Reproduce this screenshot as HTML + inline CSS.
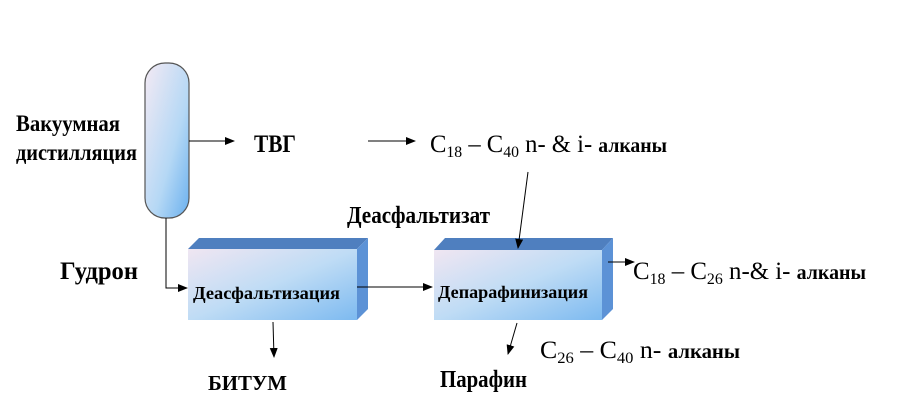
<!DOCTYPE html>
<html><head><meta charset="utf-8"><style>body{margin:0;background:#fff}svg{display:block}</style></head>
<body>
<svg width="900" height="400" xmlns="http://www.w3.org/2000/svg" font-family="Liberation Serif, serif">
<defs>
<linearGradient id="col" x1="0" y1="0" x2="1" y2="1"><stop offset="0" stop-color="#f4eaf4"/><stop offset="0.6" stop-color="#b5d8f5"/><stop offset="1" stop-color="#6ab0ee"/></linearGradient>
<linearGradient id="front" x1="0" y1="0" x2="1" y2="1"><stop offset="0" stop-color="#f0e6f2"/><stop offset="0.5" stop-color="#bfdcf5"/><stop offset="1" stop-color="#7dbaf0"/></linearGradient>
<marker id="a" markerWidth="10" markerHeight="8" refX="9" refY="4" orient="auto" markerUnits="userSpaceOnUse"><path d="M0,0 L10,4 L0,8 z" fill="#000"/></marker>
</defs>
<rect x="145" y="63" width="44" height="155" rx="20" fill="url(#col)" stroke="#555" stroke-width="1.2"/>
<polygon points="188,249 199,238 368,238 357,249" fill="#4f7fbf"/>
<polygon points="357,249 368,238 368,309 357,320" fill="#5c92d6"/>
<rect x="188" y="249" width="169" height="71" fill="url(#front)"/>
<polygon points="434,250 445,238 613,238 602,250" fill="#4f7fbf"/>
<polygon points="602,250 613,238 613,309 602,320" fill="#5c92d6"/>
<rect x="434" y="250" width="168" height="70" fill="url(#front)"/>
<g stroke="#000" stroke-width="1" fill="none">
<line x1="189" y1="141" x2="234" y2="141" marker-end="url(#a)"/>
<line x1="368" y1="141" x2="415" y2="141" marker-end="url(#a)"/>
<polyline points="166,218 166,288 187,288" marker-end="url(#a)"/>
<line x1="357" y1="287" x2="432" y2="287" marker-end="url(#a)"/>
<line x1="273" y1="322" x2="274" y2="357" marker-end="url(#a)"/>
<line x1="528" y1="172" x2="518" y2="248" marker-end="url(#a)"/>
<line x1="517" y1="323" x2="508" y2="354" marker-end="url(#a)"/>
<line x1="608" y1="262" x2="634" y2="262" marker-end="url(#a)"/>
</g>
<g font-weight="bold" fill="#000">
<text x="16" y="131" font-size="23" textLength="104" lengthAdjust="spacingAndGlyphs">Вакуумная</text>
<text x="16" y="160" font-size="23" textLength="121" lengthAdjust="spacingAndGlyphs">дистилляция</text>
<text x="254" y="152" font-size="25" textLength="42" lengthAdjust="spacingAndGlyphs">ТВГ</text>
<text x="60" y="279" font-size="25" textLength="78" lengthAdjust="spacingAndGlyphs">Гудрон</text>
<text x="347" y="223" font-size="24" textLength="143" lengthAdjust="spacingAndGlyphs">Деасфальтизат</text>
<text x="193" y="299" font-size="17.5" textLength="147" lengthAdjust="spacingAndGlyphs">Деасфальтизация</text>
<text x="438" y="298" font-size="17.5" textLength="150" lengthAdjust="spacingAndGlyphs">Депарафинизация</text>
<text x="208" y="390" font-size="21" textLength="79" lengthAdjust="spacingAndGlyphs">БИТУМ</text>
<text x="440" y="387" font-size="24" textLength="87" lengthAdjust="spacingAndGlyphs">Парафин</text>
</g>
<g font-size="25" fill="#000">
<text x="430" y="152" textLength="237" lengthAdjust="spacingAndGlyphs">C<tspan font-size="16" dy="5">18</tspan><tspan dy="-5"> – C</tspan><tspan font-size="16" dy="5">40</tspan><tspan dy="-5"> n- &amp; i- </tspan><tspan font-weight="bold" font-size="20">алканы</tspan></text>
<text x="633" y="279" textLength="233" lengthAdjust="spacingAndGlyphs">C<tspan font-size="16" dy="5">18</tspan><tspan dy="-5"> – C</tspan><tspan font-size="16" dy="5">26</tspan><tspan dy="-5"> n-&amp; i- </tspan><tspan font-weight="bold" font-size="20">алканы</tspan></text>
<text x="540" y="358" textLength="200" lengthAdjust="spacingAndGlyphs">C<tspan font-size="16" dy="5">26</tspan><tspan dy="-5"> – C</tspan><tspan font-size="16" dy="5">40</tspan><tspan dy="-5"> n-  </tspan><tspan font-weight="bold" font-size="20">алканы</tspan></text>
</g>
</svg>
</body></html>
